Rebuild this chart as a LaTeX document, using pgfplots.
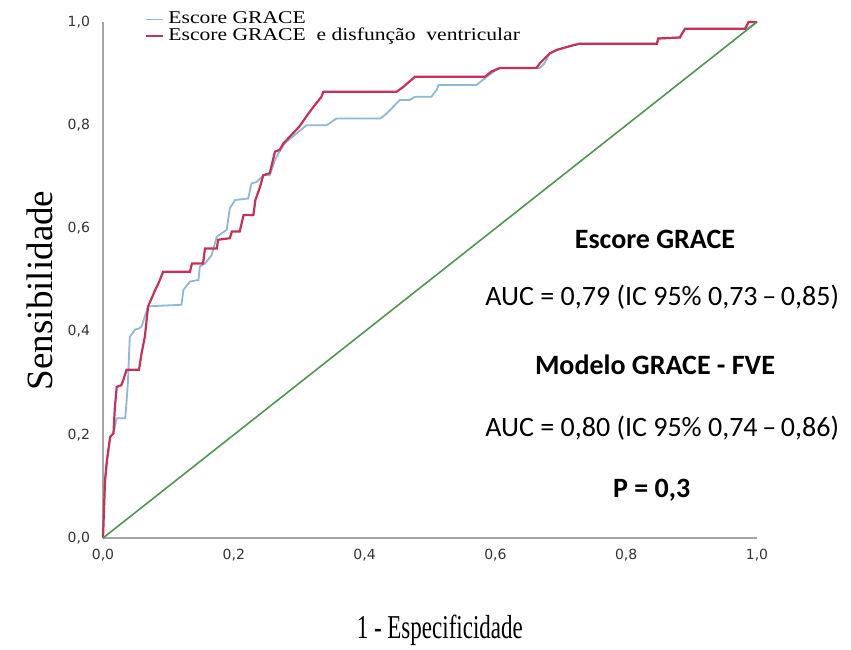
\documentclass[border=0pt]{standalone}
\usepackage{fontspec}
\setmainfont{Liberation Serif}
\newfontfamily\calibri{Carlito}
\newfontfamily\ticks{DejaVu Sans}
\usepackage{graphicx}
\usepackage{pgfplots}
\pgfplotsset{compat=1.18}

\definecolor{rocblue}{RGB}{140,185,212}
\definecolor{rocred}{RGB}{200,48,88}
\definecolor{rocgreen}{RGB}{78,152,78}
\definecolor{axgray}{RGB}{165,165,165}

\begin{document}
\begin{tikzpicture}
\useasboundingbox (-51.5pt,-55.5pt) rectangle (374pt,269pt);
\begin{axis}[
  at={(0,0)}, anchor=south west,
  scale only axis, width=327pt, height=258pt,
  xmin=0, xmax=1, ymin=0, ymax=1,
  axis x line=bottom, axis y line=left,
  axis line style={-, draw=axgray, line width=1pt},
  major tick length=0pt,
  xtick={0,0.2,...,1.0}, ytick={0,0.2,...,1.0},
  /pgf/number format/.cd, fixed, fixed zerofill, precision=1, use comma, assume math mode=true,
  /pgfplots/.cd,
  tick label style={font=\ticks\fontsize{7}{8}\selectfont, text=black!80},
  xticklabel style={yshift=-2pt},
  yticklabel style={xshift=-3pt},
  xlabel={\scalebox{1}[1.45]{1 - Especificidade}},
  ylabel={Sensibilidade},
  xlabel style={font=\fontsize{11.5}{13}\selectfont, at={(axis description cs:0.515,-0.178)}, anchor=center},
  ylabel style={font=\fontsize{18.5}{20}\selectfont, at={(axis description cs:-0.096,0.48)}, anchor=center},
  clip=false,
  legend style={at={(axis cs:0.064,1.028)}, anchor=north west, draw=none, fill=none,
    font=\fontsize{9}{9.5}\selectfont, row sep=-3.5pt, inner sep=0pt},
  legend cell align=left,
  legend image code/.code={\draw[#1] (0pt,0pt) -- (8.5pt,0pt);},
]
\addplot[rocblue, line width=0.9pt] coordinates {
(0,0) (0.003,0.11) (0.006,0.15) (0.011,0.196) (0.016,0.203) (0.021,0.232)
(0.034,0.232) (0.036,0.264) (0.038,0.30) (0.041,0.39) (0.049,0.404)
(0.055,0.406) (0.059,0.41) (0.069,0.449) (0.120,0.452) (0.123,0.481)
(0.133,0.497) (0.146,0.50) (0.148,0.526) (0.156,0.532) (0.166,0.548)
(0.174,0.584) (0.181,0.59) (0.189,0.597) (0.194,0.639) (0.202,0.655)
(0.222,0.658) (0.227,0.687) (0.235,0.69) (0.245,0.703) (0.255,0.703)
(0.263,0.733) (0.268,0.745) (0.278,0.765) (0.311,0.80) (0.342,0.80)
(0.357,0.813) (0.424,0.813) (0.434,0.823) (0.454,0.849) (0.469,0.849)
(0.477,0.855) (0.502,0.855) (0.510,0.868) (0.513,0.878) (0.571,0.878)
(0.587,0.894) (0.600,0.906) (0.607,0.911) (0.668,0.911) (0.675,0.92)
(0.683,0.939) (0.694,0.946) (0.719,0.955) (0.729,0.958) (0.847,0.958)
(0.849,0.968) (0.882,0.97) (0.89,0.987) (0.985,0.987) (1,1)
};
\addlegendentry{\scalebox{1.2}[1]{Escore GRACE}}
\addplot[rocred, line width=1.1pt] coordinates {
(0,0) (0.003,0.11) (0.006,0.15) (0.011,0.196) (0.016,0.203) (0.018,0.25)
(0.021,0.293) (0.028,0.296) (0.031,0.306) (0.036,0.326) (0.055,0.326)
(0.059,0.358) (0.064,0.39) (0.069,0.449) (0.080,0.481) (0.085,0.494)
(0.092,0.516) (0.133,0.516) (0.136,0.532) (0.153,0.532) (0.156,0.561)
(0.174,0.561) (0.176,0.578) (0.194,0.581) (0.197,0.594) (0.209,0.594)
(0.215,0.626) (0.23,0.626) (0.233,0.655) (0.240,0.68) (0.245,0.703)
(0.255,0.707) (0.263,0.749) (0.270,0.752) (0.276,0.765) (0.300,0.797)
(0.311,0.817) (0.322,0.836) (0.334,0.855) (0.337,0.865) (0.449,0.865)
(0.459,0.874) (0.477,0.894) (0.584,0.894) (0.594,0.904) (0.607,0.911)
(0.663,0.911) (0.668,0.92) (0.683,0.939) (0.694,0.946) (0.719,0.955)
(0.729,0.958) (0.847,0.958) (0.849,0.968) (0.882,0.97) (0.89,0.987)
(0.982,0.987) (0.987,1.0) (1,1)
};
\addlegendentry{\scalebox{1.2}[1]{Escore GRACE\ \ e disfunção\ \ ventricular}}
\addplot[rocgreen, line width=0.8pt, forget plot] coordinates {(0,0) (1,1)};

\node[font=\calibri\bfseries\fontsize{14}{16}\selectfont] at (axis cs:0.844,0.578) {Escore GRACE};
\node[font=\calibri\fontsize{14}{16}\selectfont] at (axis cs:0.855,0.467) {AUC = 0,79 (IC 95\% 0,73\,–\,0,85)};
\node[font=\calibri\bfseries\fontsize{14}{16}\selectfont] at (axis cs:0.844,0.335) {Modelo GRACE - FVE};
\node[font=\calibri\fontsize{14}{16}\selectfont] at (axis cs:0.855,0.213) {AUC = 0,80 (IC 95\% 0,74\,–\,0,86)};
\node[font=\calibri\bfseries\fontsize{14}{16}\selectfont] at (axis cs:0.839,0.093) {P = 0,3};
\end{axis}
\end{tikzpicture}
\end{document}
